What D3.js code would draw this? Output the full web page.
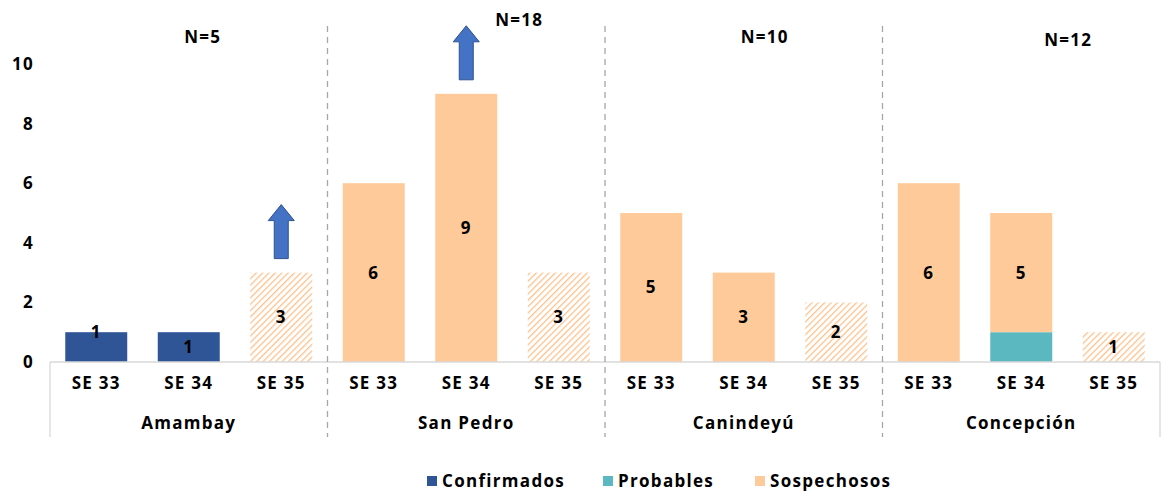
<!DOCTYPE html>
<html>
<head>
<meta charset="utf-8">
<script src="https://cdn.jsdelivr.net/npm/d3@7"></script>
<style>
  body { margin: 0; background: #fff; }
  text { font-family: "Open Sans", sans-serif; font-weight: 700; fill: #000; letter-spacing: 1.3px; }
</style>
</head>
<body>
<div id="chart"></div>
<script>
// chart values
const departments = ["Amambay", "San Pedro", "Canindeyú", "Concepción"]
const weeks = ["SE 33", "SE 34", "SE 35"]
const totals = ["N=5", "N=18", "N=10", "N=12"]
const confirmados = [1, 1, 0, 0, 0, 0, 0, 0, 0, 0, 0, 0]
const probables = [0, 0, 0, 0, 0, 0, 0, 0, 0, 0, 1, 0]
const sospechosos = [0, 0, 3, 6, 9, 3, 5, 3, 2, 6, 4, 1]
const barLabels = ["1", "1", "3", "6", "9", "3", "5", "3", "2", "6", "5", "1"]
const yTicks = [0, 2, 4, 6, 8, 10]
const arrowsAt = [2, 4]   // bars with an "increase" arrow
const seriesNames = ["Confirmados", "Probables", "Sospechosos"]

const width = 1174, height = 493
const colors = { Confirmados: "#2F5597", Probables: "#5BB8C1", Sospechosos: "#FFCA99" }

const svg = d3.select("#chart").append("svg")
  .attr("width", width)
  .attr("height", height)

// hatch for the provisional week
const defs = svg.append("defs")
defs.append("pattern")
  .attr("id", "hatch")
  .attr("patternUnits", "userSpaceOnUse")
  .attr("width", 4.5).attr("height", 4.5)
  .attr("patternTransform", "rotate(45)")
  .append("line")
  .attr("x1", 0).attr("y1", 0).attr("x2", 0).attr("y2", 4.5)
  .attr("stroke", "#FCC28E")
  .attr("stroke-width", 2.6)

const keys = []
departments.forEach(d => weeks.forEach(w => keys.push(d + "|" + w)))

const x = d3.scaleBand()
  .domain(keys)
  .range([50, 1160])
  .paddingInner(0.33)
  .paddingOuter(0.165)

const y = d3.scaleLinear().domain([0, 10]).range([362, 64])

const rows = keys.map((k, i) => ({
  key: k, i,
  Confirmados: confirmados[i],
  Probables: probables[i],
  Sospechosos: sospechosos[i]
}))
const stacked = d3.stack().keys(seriesNames)(rows)

// y tick labels
svg.append("g").selectAll("text")
  .data(yTicks)
  .join("text")
  .attr("x", 34)
  .attr("y", d => y(d))
  .attr("dy", "0.35em")
  .attr("text-anchor", "end")
  .attr("font-size", 17)
  .text(d => d)

// bars
stacked.forEach(layer => {
  svg.append("g").selectAll("rect")
    .data(layer.filter(d => d[1] > d[0]))
    .join("rect")
    .attr("x", d => x(d.data.key))
    .attr("width", x.bandwidth())
    .attr("y", d => y(d[1]))
    .attr("height", d => y(d[0]) - y(d[1]))
    .attr("fill", d => layer.key === "Sospechosos" && d.data.key.endsWith("SE 35") ? "url(#hatch)" : colors[layer.key])
})

// value labels (middle of top segment)
svg.append("g").selectAll("text")
  .data(rows)
  .join("text")
  .attr("x", d => x(d.key) + x.bandwidth() / 2)
  .attr("y", d => {
    const segs = stacked.map(l => l[d.i]).filter(s => s[1] > s[0])
    const top = segs[segs.length - 1]
    const v = d.i === 0 ? top[1] : (top[0] + top[1]) / 2
    return y(v)
  })
  .attr("dy", "0.35em")
  .attr("text-anchor", "middle")
  .attr("font-size", 17)
  .text((d, i) => barLabels[i])

// axis frame
const axis = svg.append("g").attr("stroke", "#D9D9D9").attr("stroke-width", 1.3)
axis.append("line").attr("x1", 50).attr("x2", 1160).attr("y1", y(0)).attr("y2", y(0))
axis.append("line").attr("x1", 50).attr("x2", 50).attr("y1", y(0)).attr("y2", 437)
axis.append("line").attr("x1", 1160).attr("x2", 1160).attr("y1", y(0)).attr("y2", 437)

const step = x.step()
const groupStart = i => x(keys[i * 3]) - x.paddingOuter() * step

// dashed separators between departments
svg.append("g").selectAll("line")
  .data([1, 2, 3])
  .join("line")
  .attr("x1", i => groupStart(i)).attr("x2", i => groupStart(i))
  .attr("y1", 26).attr("y2", 437)
  .attr("stroke", "#A6A6A6")
  .attr("stroke-width", 1.3)
  .attr("stroke-dasharray", "6,5")

// week labels
svg.append("g").selectAll("text")
  .data(keys)
  .join("text")
  .attr("x", d => x(d) + x.bandwidth() / 2)
  .attr("y", 389)
  .attr("text-anchor", "middle")
  .attr("font-size", 17)
  .text(d => d.split("|")[1])

// department labels
svg.append("g").selectAll("text")
  .data(departments)
  .join("text")
  .attr("x", (d, i) => groupStart(i) + step * 1.5)
  .attr("y", 429)
  .attr("text-anchor", "middle")
  .attr("font-size", 17)
  .text(d => d)

// N totals above each department
const nOffset = [[14, 43], [53, 26], [21, 43], [47, 46]]
svg.append("g").selectAll("text")
  .data(totals)
  .join("text")
  .attr("x", (d, i) => groupStart(i) + step * 1.5 + nOffset[i][0])
  .attr("y", (d, i) => nOffset[i][1])
  .attr("text-anchor", "middle")
  .attr("font-size", 17)
  .text(d => d)

// increase arrows
const arrowPath = "M0,0 L13,16 L7,16 L7,54 L-7,54 L-7,16 L-13,16 Z"
svg.append("g").selectAll("path")
  .data(arrowsAt)
  .join("path")
  .attr("d", arrowPath)
  .attr("transform", i => `translate(${x(keys[i]) + x.bandwidth() / 2},${y(sospechosos[i] + confirmados[i] + probables[i]) - 68})`)
  .attr("fill", "#4472C4")
  .attr("stroke", "#2F528F")
  .attr("stroke-width", 1)

// legend
const legendX = [427, 603, 755]
const legend = svg.append("g").selectAll("g")
  .data(seriesNames)
  .join("g")
  .attr("transform", (d, i) => `translate(${legendX[i]},476)`)
legend.append("rect")
  .attr("width", 10).attr("height", 10)
  .attr("fill", d => colors[d])
legend.append("text")
  .attr("x", 15).attr("y", 5)
  .attr("dy", "0.35em")
  .attr("font-size", 17)
  .text(d => d)
</script>
</body>
</html>
